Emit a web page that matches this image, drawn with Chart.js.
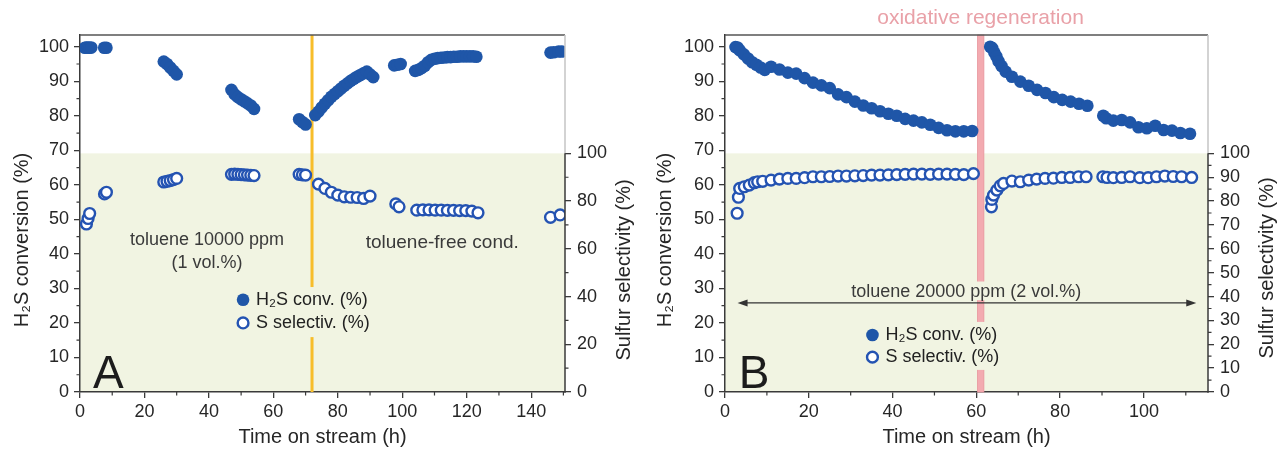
<!DOCTYPE html>
<html><head><meta charset="utf-8">
<script src="https://cdn.jsdelivr.net/npm/chart.js@4.4.1/dist/chart.umd.min.js"></script>
<style>
html,body{margin:0;padding:0;background:#fff;}
#wrap{position:relative;width:1280px;height:452px;overflow:hidden;}
canvas{position:absolute;top:0;}
</style></head><body>
<div id="wrap">
<canvas id="ca" width="640" height="452" style="left:0"></canvas>
<canvas id="cb" width="640" height="452" style="left:640px"></canvas>
</div>
<script>
// ---------- Panel A data ----------
const aConvT = [1.5, 2, 2.5, 3, 3.5, 7.5, 8.2,
  26, 27, 28, 29, 30,
  47, 48, 49, 50, 51, 52, 53, 54,
  68, 69, 70,
  73, 74, 75, 76, 77, 78, 79, 80, 81, 82, 83, 84, 85, 86, 87, 88, 89, 90, 91,
  97.5, 98.5, 99.5,
  104, 105, 106, 107, 108, 109, 110, 111, 112, 113, 114, 115, 116, 117, 118, 119, 120, 121, 122, 123,
  146, 147, 148.5, 149.5];
const aConvV = [99.7, 99.8, 99.8, 99.7, 99.8, 99.7, 99.7,
  95.7, 95, 94, 93, 92,
  87.5, 86.2, 85.4, 84.8, 84.2, 83.6, 83, 82,
  79, 78.2, 77.5,
  80.2, 81.2, 82.4, 83.5, 84.5, 85.5, 86.3, 87.1, 87.9, 88.7, 89.4, 90.1, 90.7, 91.3, 91.8, 92.3, 92.8, 92, 91.2,
  94.6, 94.8, 95,
  93, 93.3, 93.8, 94.5, 95.5, 96.2, 96.5, 96.7, 96.8, 96.9, 97, 97, 97.1, 97.1, 97.2, 97.2, 97.2, 97.2, 97.2, 97.1,
  98.3, 98.4, 98.6, 98.6];
const aSelT = [2, 2.5, 3, 7.6, 8.2,
  26, 27, 28, 29, 30,
  47, 48, 49, 50, 51, 52, 53, 54,
  68, 69, 70,
  74, 76, 78, 80, 82, 84, 86, 88, 90,
  98, 99,
  104.5, 106.4, 108.3, 110.2, 112.1, 114, 115.9, 117.8, 119.7, 121.6, 123.5,
  146, 149];
const aSelV = [70.4, 72.7, 74.8, 83, 83.7,
  88, 88.3, 88.6, 89, 89.5,
  91.2, 91.3, 91.2, 91.1, 91, 90.9, 90.8, 90.7,
  91.2, 91, 90.9,
  87.1, 85.3, 83.7, 82.5, 81.8, 81.6, 81.5, 81.1, 82.1,
  78.8, 77.6,
  76.2, 76.3, 76.3, 76.2, 76.2, 76.1, 76.1, 76, 76, 75.8, 75.1,
  73.2, 74.2];

// ---------- Panel B data ----------
const bConvT = [2.5, 3, 3.5, 4.5, 5.5, 6.5, 7.5, 8.5, 9.5,
  11, 13, 15, 17, 19, 21, 23, 25, 27, 29, 31, 33, 35, 37, 39, 41, 43, 45, 47, 49, 51, 53, 55, 57, 59,
  63.3, 63.8, 64.3, 64.8, 65.3, 66, 67, 68.5, 70.5, 72.5, 74.5, 76.5, 78.5, 80.5, 82.5, 84.5, 86.5,
  90.3, 91, 92.7, 94.7, 96.7, 98.7, 100.7, 102.7, 104.7, 106.7, 108.7, 111];
const bConvV = [99.9, 99.8, 99, 97.8, 96.6, 95.5, 94.8, 94, 93.3,
  94.2, 93.4, 92.5, 92.2, 90.9, 89.6, 88.8, 88, 86.2, 85.4, 84.1, 83, 82.2, 81.3, 80.6, 80, 79.1, 78.6, 78.1, 77.4, 76.5, 75.8, 75.5, 75.5, 75.6,
  100, 99.6, 98.3, 97.2, 95.8, 94.4, 92.8, 91.3, 89.9, 88.7, 87.5, 86.6, 85.4, 84.6, 84.1, 83.5, 82.9,
  80, 79.3, 78.6, 78.8, 78.1, 76.7, 76.4, 77.1, 75.9, 75.7, 75, 74.8];
const bSelT = [2.9, 3.2, 3.5, 4.6, 5.8, 7, 7.8, 9,
  11, 13, 15, 17, 19, 21, 23, 25, 27, 29, 31, 33, 35, 37, 39, 41, 43, 45, 47, 49, 51, 53, 55, 57, 59.3,
  63.6, 63.7, 64.1, 64.9, 65.7, 66.5, 68.5, 70.5, 72.5, 74.4, 76.4, 78.4, 80.4, 82.4, 84.4, 86.2,
  90.2, 91.2, 92.7, 94.7, 96.7, 99, 101, 103, 105, 107, 109, 111.4];
const bSelV = [74.9, 81.6, 85.3, 86, 86.7, 87.7, 88.1, 88.3,
  88.8, 89.2, 89.5, 89.5, 89.8, 90.2, 90.2, 90.3, 90.5, 90.5, 90.6, 90.7, 90.9, 90.9, 91, 91.1, 91.2, 91.3, 91.3, 91.2, 91.3, 91.3, 91.2, 91.1, 91.5,
  77.6, 80.7, 82.5, 84.6, 86.4, 87.4, 88.4, 88.1, 88.8, 89.2, 89.5, 89.6, 89.9, 89.9, 90.2, 90.2,
  90.2, 89.9, 89.8, 89.9, 90.2, 89.8, 89.8, 90.2, 90.5, 90.3, 90.2, 89.9];

// ---------- labels ----------
const xTitle = 'Time on stream (h)';
const yLeftTitle = 'H\u2082S conversion (%)';
const yRightTitle = 'Sulfur selectivity (%)';
const legendLabels = ['H\u2082S conv. (%)', 'S selectiv. (%)'];

// ---------- style ----------
const FONT = "'Liberation Sans', Arial, Helvetica, sans-serif";
const TXT = '#262626';
const AX = '#3a3a3a';
const SHADE = '#f1f4e2';
const BLUE = '#1f56a8';
const BLUE_O = '#2453b2';
Chart.defaults.font.family = FONT;
Chart.defaults.font.size = 18;
Chart.defaults.color = TXT;

function text(ctx, s, x, y, opt) {
  ctx.save();
  ctx.font = (opt.weight || 'normal') + ' ' + (opt.size || 18) + 'px ' + FONT;
  ctx.fillStyle = opt.color || TXT;
  ctx.textAlign = opt.align || 'center';
  ctx.textBaseline = opt.base || 'middle';
  if (opt.rot) { ctx.translate(x, y); ctx.rotate(opt.rot); ctx.fillText(s, 0, 0); }
  else ctx.fillText(s, x, y);
  ctx.restore();
}

function panelPlugin(p) {
  return {
    id: 'panel' + p.letter,
    beforeDraw(chart) {
      const {ctx, chartArea: a, scales} = chart;
      const yTop = scales.y2.getPixelForValue(100);
      ctx.save();
      ctx.fillStyle = SHADE;
      ctx.fillRect(a.left, yTop, a.right - a.left, a.bottom - yTop);
      ctx.restore();
    },
    beforeDatasetsDraw(chart) {
      const {ctx, chartArea: a, scales: {x, y}} = chart;
      ctx.save();
      if (p.vline) {
        ctx.strokeStyle = p.vline.color; ctx.lineWidth = p.vline.width;
        const px = x.getPixelForValue(p.vline.x);
        ctx.beginPath(); ctx.moveTo(px, a.top); ctx.lineTo(px, a.bottom); ctx.stroke();
      }
      if (p.band) {
        const x0 = x.getPixelForValue(p.band.x0), x1 = x.getPixelForValue(p.band.x1);
        ctx.fillStyle = p.band.color;
        ctx.fillRect(x0, a.top, x1 - x0, a.bottom - a.top);
        ctx.strokeStyle = p.band.edge; ctx.lineWidth = 0.8;
        ctx.strokeRect(x0, a.top, x1 - x0, a.bottom - a.top);
      }
      ctx.fillStyle = SHADE;
      for (const b of p.boxes) {
        const x0 = x.getPixelForValue(b[0]), x1 = x.getPixelForValue(b[1]);
        const y0 = y.getPixelForValue(b[2]), y1 = y.getPixelForValue(b[3]);
        ctx.fillRect(x0, y0, x1 - x0, y1 - y0);
      }
      ctx.restore();
    },
    afterDatasetsDraw(chart) {
      const {ctx, chartArea: a, scales: {x, y, y2}} = chart;
      // annotations
      for (const t of p.texts) {
        text(ctx, t.s, x.getPixelForValue(t.x), y.getPixelForValue(t.y), {color: t.color || '#3a3a3a', size: t.size || 18});
      }
      // arrow
      if (p.arrow) {
        const x0 = x.getPixelForValue(p.arrow.x0), x1 = x.getPixelForValue(p.arrow.x1), py = y.getPixelForValue(p.arrow.y);
        ctx.save();
        ctx.strokeStyle = '#333'; ctx.fillStyle = '#333'; ctx.lineWidth = 1.4;
        ctx.beginPath(); ctx.moveTo(x0 + 6, py); ctx.lineTo(x1 - 6, py); ctx.stroke();
        ctx.beginPath(); ctx.moveTo(x0, py); ctx.lineTo(x0 + 10, py - 3.5); ctx.lineTo(x0 + 10, py + 3.5); ctx.closePath(); ctx.fill();
        ctx.beginPath(); ctx.moveTo(x1, py); ctx.lineTo(x1 - 10, py - 3.5); ctx.lineTo(x1 - 10, py + 3.5); ctx.closePath(); ctx.fill();
        ctx.restore();
      }
      // legend
      const lx = x.getPixelForValue(p.legend.x);
      const ds = chart.data.datasets;
      const rows = [ds[1], ds[0]];
      rows.forEach((d, i) => {
        const ly = y.getPixelForValue(p.legend.y[i]);
        ctx.save();
        ctx.beginPath(); ctx.arc(lx, ly, i === 0 ? 6.3 : 5.4, 0, Math.PI * 2);
        ctx.fillStyle = d.pointBackgroundColor; ctx.fill();
        if (i === 1) { ctx.lineWidth = d.pointBorderWidth; ctx.strokeStyle = d.pointBorderColor; ctx.stroke(); }
        ctx.restore();
        text(ctx, d.label, lx + 13, ly, {align: 'left', color: '#222'});
      });
      // panel letter
      text(ctx, p.letter, x.getPixelForValue(p.letterPos[0]), y.getPixelForValue(p.letterPos[1]),
        {size: 46, align: 'left', base: 'alphabetic', color: '#1c1c1c'});
      // frame
      const yTop = y2.getPixelForValue(100);
      ctx.save();
      ctx.lineWidth = 1.5;
      ctx.strokeStyle = '#555';
      ctx.beginPath(); ctx.moveTo(a.left, a.top); ctx.lineTo(a.right, a.top); ctx.stroke();
      ctx.strokeStyle = '#c4c4c4';
      ctx.beginPath(); ctx.moveTo(a.right, a.top); ctx.lineTo(a.right, yTop); ctx.stroke();
      ctx.strokeStyle = AX;
      ctx.beginPath(); ctx.moveTo(a.right, yTop); ctx.lineTo(a.right, a.bottom + 0.7); ctx.stroke();
      // minor ticks
      ctx.lineWidth = 1.2;
      ctx.beginPath();
      for (let v = 10; v < x.max; v += 20) { const px = x.getPixelForValue(v); ctx.moveTo(px, a.bottom); ctx.lineTo(px, a.bottom + 3.5); }
      for (let v = 5; v < 100; v += 10) { const py = y.getPixelForValue(v); ctx.moveTo(a.left, py); ctx.lineTo(a.left - 3.5, py); }
      for (let v = p.y2Step / 2; v < 100; v += p.y2Step) { const py = y2.getPixelForValue(v); ctx.moveTo(a.right, py); ctx.lineTo(a.right + 3.5, py); }
      ctx.stroke();
      ctx.restore();
      // vertical axis titles
      text(ctx, yLeftTitle, p.lTitle[0], p.lTitle[1], {rot: -Math.PI / 2, size: 20});
      text(ctx, yRightTitle, p.rTitle[0], p.rTitle[1], {rot: -Math.PI / 2, size: 20});
    }
  };
}

function makeChart(id, p) {
  const conv = p.convT.map((t, i) => ({x: t, y: p.convV[i]}));
  const sel = p.selT.map((t, i) => ({x: t, y: p.selV[i]}));
  const tickFont = {size: 18, family: FONT};
  return new Chart(document.getElementById(id), {
    type: 'scatter',
    data: {datasets: [
      {label: legendLabels[1], data: sel, yAxisID: 'y2', pointRadius: 5.4, pointBorderWidth: 2.4,
        pointBackgroundColor: '#ffffff', pointBorderColor: BLUE_O, showLine: false},
      {label: legendLabels[0], data: conv, yAxisID: 'y', pointRadius: 6.3, pointBorderWidth: 0,
        pointBackgroundColor: BLUE, pointBorderColor: BLUE, showLine: false}
    ]},
    options: {
      responsive: false, animation: false, events: [],
      layout: {padding: {top: 35, left: 0, right: 0, bottom: 0}},
      plugins: {legend: {display: false}, tooltip: {enabled: false}},
      scales: {
        x: {type: 'linear', position: 'bottom', min: 0, max: p.xMax,
          afterFit: s => { s.height = 60; },
          ticks: {stepSize: 20, padding: 3, color: TXT, font: tickFont, includeBounds: false, maxRotation: 0, autoSkip: false},
          grid: {drawOnChartArea: false, drawTicks: true, tickLength: 6, color: AX, lineWidth: 1.3},
          border: {display: true, color: AX, width: 1.5},
          title: {display: true, text: xTitle, color: TXT, font: {size: 20, family: FONT}, padding: {top: 0, bottom: 3}}},
        y: {type: 'linear', position: 'left', min: 0, max: 103.4,
          afterFit: s => { s.width = p.left; },
          ticks: {stepSize: 10, padding: 5, color: TXT, font: tickFont, includeBounds: false, autoSkip: false},
          grid: {drawOnChartArea: false, drawTicks: true, tickLength: 6, color: AX, lineWidth: 1.3},
          border: {display: true, color: AX, width: 1.5}},
        y2: {type: 'linear', position: 'right', min: 0, max: 149.6,
          afterFit: s => { s.width = 640 - p.right; },
          afterBuildTicks: s => { s.ticks = s.ticks.filter(t => t.value <= 100); },
          ticks: {stepSize: p.y2Step, padding: 6, color: TXT, font: tickFont, includeBounds: false, autoSkip: false},
          grid: {drawOnChartArea: false, drawTicks: true, tickLength: 6, color: AX, lineWidth: 1.3},
          border: {display: false}}
      }
    },
    plugins: [panelPlugin(p)]
  });
}

makeChart('ca', {
  letter: 'A', convT: aConvT, convV: aConvV, selT: aSelT, selV: aSelV,
  xMax: 150.5, left: 80, right: 565, y2Step: 20,
  vline: {x: 72, color: '#f7bd2a', width: 3},
  boxes: [[46.6, 86.3, 30.4, 15.9]],
  texts: [
    {s: 'toluene 10000 ppm', x: 39.4, y: 44},
    {s: '(1 vol.%)', x: 39.4, y: 37.4},
    {s: 'toluene-free cond.', x: 112.4, y: 43.2, size: 19}
  ],
  legend: {x: 50.6, y: [26.7, 20]},
  letterPos: [4, 1.2],
  lTitle: [22, 240], rTitle: [624, 270]
});

makeChart('cb', {
  letter: 'B', convT: bConvT, convV: bConvV, selT: bSelT, selV: bSelV,
  xMax: 115.3, left: 85, right: 568, y2Step: 10,
  band: {x0: 60.3, x1: 61.8, color: '#f3aab0', edge: '#e8959c'},
  boxes: [[32.4, 63.3, 20.3, 6.4], [57, 66, 32, 26.6]],
  texts: [
    {s: 'toluene 20000 ppm (2 vol.%)', x: 57.6, y: 29},
    {s: 'oxidative regeneration', x: 61, y: 108.4, color: '#e9a1a8', size: 21}
  ],
  arrow: {x0: 3, x1: 112.5, y: 25.8},
  legend: {x: 35.2, y: [16.5, 10.1]},
  letterPos: [3.3, 1.2],
  lTitle: [25, 240], rTitle: [627, 268]
});
</script>
</body></html>
